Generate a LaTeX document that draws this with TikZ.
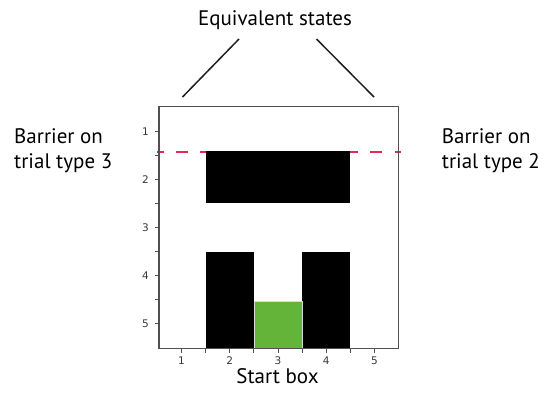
\documentclass[tikz,border=0pt]{standalone}
\usepackage{fontspec}
\setmainfont{PT Sans}
\newfontfamily\tickfont{DejaVu Sans}
\definecolor{dashred}{RGB}{232,38,92}
\definecolor{startgreen}{RGB}{100,180,58}
\definecolor{axisgray}{RGB}{80,80,80}
\begin{document}
\begin{tikzpicture}[x=1pt,y=-1pt,
  lbl/.style={font=\fontsize{21}{25}\selectfont, inner sep=0pt},
  ticklbl/.style={font=\tickfont\fontsize{10.5}{11}\selectfont, text=black!78, inner sep=0pt},
  axisframe/.style={draw=axisgray, line width=1.1pt},
  barrier/.style={fill=black},
  startcell/.style={fill=startgreen, draw=white!85!black, line width=0.5pt},
  connector/.style={line width=1.5pt, draw=black!88},
  tickmark/.style={draw=axisgray, line width=0.8pt},
  dashline/.style={draw=dashred, line width=2.2pt, dash pattern=on 12pt off 12.3pt, dash phase=5.3pt}]
\useasboundingbox (0,0) rectangle (547,392);

% dashed barrier line
\coordinate (dashL) at (157,152.3);
\coordinate (dashR) at (401,152.3);
\draw[dashline] (dashL) -- (dashR);

% walls
\fill[barrier] (205.6,150.9) rectangle (350.4,202.8);
\fill[barrier] (205.6,251.5) rectangle (254,348.5);
\fill[barrier] (302.2,251.5) rectangle (350.4,348.5);
\filldraw[startcell] (254.3,301) rectangle (302,348.5);

% ticks
\foreach \d in {1,1.5,...,5.01} {
  \draw[tickmark] ({181.5+(\d-1)*48.25},348.5) -- ++(0,4);
  \draw[tickmark] (159,{131.7+(\d-1)*47.9}) -- ++(-4,0);
}
\foreach \d in {1,...,5} {
  \node[ticklbl] (xt\d) at ({181.5+(\d-1)*48.25},360.5) {\d};
  \node[ticklbl] (yt\d) at (145.5,{131.7+(\d-1)*47.9}) {\d};
}

% frame
\draw[axisframe] (159,106.5) rectangle (398.5,348.5);

% labels
\node[lbl, anchor=base] (eq) at (275,25) {Equivalent states};
\node[lbl, anchor=base] (start) at (277.5,383) {Start box};
\node[lbl, anchor=base west, align=left] (b3) at (14,168) {Barrier on\\trial type 3};
\node[lbl, anchor=base west, align=left] (b2) at (441.7,168) {Barrier on\\trial type 2};

% connectors
\coordinate (eqL) at (239,39);
\coordinate (cornerL) at (182.5,97);
\coordinate (eqR) at (316.5,39);
\coordinate (cornerR) at (374,97);
\draw[connector] (eqL) -- (cornerL);
\draw[connector] (eqR) -- (cornerR);
\end{tikzpicture}
\end{document}
